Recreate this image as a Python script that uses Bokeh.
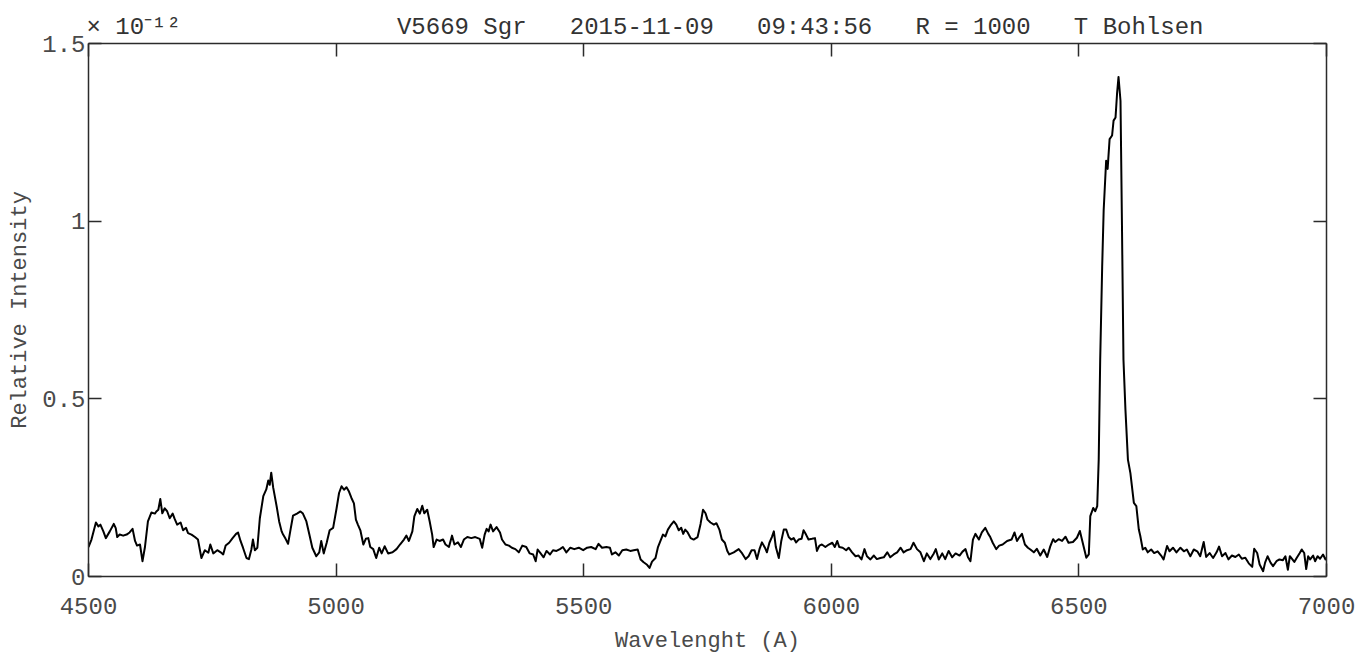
from bokeh.plotting import figure
from bokeh.models import LinearAxis, FixedTicker, CustomJSTickFormatter, Range1d, Title
from bokeh.embed import file_html
from bokeh.resources import INLINE

# V5669 Sgr spectrum, relative intensity in units of 1e-12
wavelength = [
    4500, 4506, 4515, 4520, 4524, 4530, 4535, 4543, 4551, 4555, 4558, 4563, 4570, 4577, 4583, 4589,
    4594, 4598, 4604, 4609, 4614, 4620, 4627, 4634, 4637, 4641, 4645, 4649, 4654, 4659, 4664, 4670,
    4674, 4679, 4686, 4691, 4697, 4701, 4708, 4715, 4721, 4728, 4735, 4742, 4746, 4752, 4760, 4767,
    4772, 4777, 4784, 4791, 4798, 4802, 4807, 4812, 4819, 4824, 4829, 4832, 4836, 4841, 4846, 4853,
    4859, 4863, 4866, 4869, 4873, 4880, 4885, 4890, 4893, 4898, 4903, 4908, 4913, 4921, 4928, 4933,
    4940, 4946, 4952, 4960, 4966, 4970, 4975, 4981, 4987, 4994, 5001, 5006, 5011, 5016, 5021, 5026,
    5031, 5036, 5040, 5044, 5049, 5055, 5060, 5065, 5069, 5075, 5081, 5087, 5092, 5098, 5105, 5114,
    5122, 5129, 5137, 5142, 5147, 5154, 5158, 5164, 5169, 5174, 5178, 5184, 5189, 5194, 5197, 5203,
    5209, 5216, 5221, 5228, 5234, 5239, 5246, 5252, 5258, 5265, 5273, 5281, 5290, 5295, 5300, 5304,
    5308, 5312, 5317, 5324, 5331, 5335, 5342, 5349, 5355, 5362, 5369, 5376, 5384, 5391, 5398, 5403,
    5407, 5413, 5419, 5425, 5432, 5438, 5445, 5452, 5458, 5465, 5473, 5481, 5490, 5499, 5507, 5515,
    5524, 5530, 5537, 5546, 5553, 5557, 5564, 5571, 5578, 5586, 5594, 5601, 5609, 5615, 5621, 5628,
    5633, 5638, 5645, 5650, 5655, 5660, 5665, 5670, 5675, 5682, 5687, 5692, 5697, 5701, 5705, 5710,
    5716, 5722, 5730, 5736, 5741, 5746, 5750, 5756, 5763, 5768, 5774, 5779, 5785, 5790, 5794, 5803,
    5813, 5820, 5827, 5833, 5839, 5845, 5850, 5855, 5860, 5866, 5870, 5875, 5880, 5884, 5888, 5894,
    5899, 5904, 5909, 5914, 5919, 5924, 5929, 5934, 5940, 5944, 5949, 5954, 5961, 5967, 5971, 5976,
    5981, 5988, 5995, 6002, 6007, 6012, 6016, 6023, 6030, 6035, 6042, 6049, 6055, 6061, 6067, 6072,
    6079, 6086, 6092, 6099, 6106, 6113, 6119, 6126, 6133, 6140, 6146, 6153, 6160, 6166, 6173, 6180,
    6187, 6193, 6200, 6207, 6211, 6217, 6224, 6230, 6237, 6244, 6251, 6259, 6265, 6271, 6276, 6281,
    6286, 6291, 6298, 6304, 6311, 6317, 6321, 6326, 6333, 6339, 6346, 6355, 6364, 6370, 6375, 6380,
    6385, 6391, 6397, 6402, 6409, 6415, 6422, 6429, 6436, 6442, 6448, 6452, 6459, 6466, 6473, 6479,
    6488, 6496, 6502, 6506, 6511, 6515, 6520, 6523, 6529, 6533, 6537, 6540, 6543, 6547, 6550, 6555,
    6558, 6562, 6567, 6570, 6574, 6577, 6580, 6584, 6587, 6590, 6594, 6599, 6604, 6611, 6616, 6621,
    6624, 6629, 6634, 6639, 6646, 6652, 6659, 6666, 6671, 6678, 6683, 6690, 6697, 6705, 6712, 6718,
    6725, 6732, 6739, 6745, 6752, 6757, 6764, 6771, 6778, 6783, 6789, 6796, 6802, 6809, 6816, 6823,
    6829, 6836, 6843, 6850, 6854, 6860, 6865, 6872, 6876, 6881, 6887, 6892, 6899, 6905, 6912, 6917,
    6922, 6926, 6930, 6935, 6940, 6946, 6950, 6955, 6959, 6963, 6967, 6973, 6977, 6982, 6987, 6993,
    6998, 7000,
]
intensity = [
    0.083, 0.104, 0.152, 0.141, 0.146, 0.127, 0.108, 0.127, 0.148, 0.136, 0.111, 0.118, 0.115, 0.118, 0.124, 0.134,
    0.100, 0.087, 0.090, 0.043, 0.083, 0.155, 0.180, 0.177, 0.183, 0.188, 0.218, 0.178, 0.192, 0.183, 0.164, 0.177,
    0.162, 0.146, 0.152, 0.130, 0.137, 0.122, 0.118, 0.111, 0.104, 0.052, 0.074, 0.067, 0.090, 0.065, 0.074, 0.068,
    0.062, 0.087, 0.095, 0.108, 0.120, 0.124, 0.100, 0.081, 0.052, 0.049, 0.077, 0.104, 0.074, 0.081, 0.164, 0.226,
    0.245, 0.270, 0.258, 0.292, 0.250, 0.197, 0.155, 0.127, 0.118, 0.106, 0.092, 0.132, 0.171, 0.177, 0.183, 0.177,
    0.155, 0.118, 0.081, 0.057, 0.068, 0.100, 0.065, 0.095, 0.130, 0.137, 0.192, 0.235, 0.254, 0.244, 0.251, 0.239,
    0.221, 0.206, 0.160, 0.146, 0.130, 0.090, 0.106, 0.108, 0.083, 0.077, 0.052, 0.081, 0.065, 0.085, 0.065, 0.068,
    0.077, 0.090, 0.104, 0.115, 0.100, 0.127, 0.169, 0.190, 0.177, 0.199, 0.178, 0.188, 0.155, 0.118, 0.083, 0.104,
    0.100, 0.104, 0.090, 0.083, 0.115, 0.090, 0.096, 0.083, 0.104, 0.111, 0.108, 0.111, 0.106, 0.081, 0.118, 0.134,
    0.127, 0.146, 0.127, 0.139, 0.124, 0.104, 0.090, 0.087, 0.081, 0.077, 0.068, 0.087, 0.083, 0.065, 0.062, 0.043,
    0.076, 0.065, 0.054, 0.072, 0.062, 0.074, 0.072, 0.077, 0.083, 0.068, 0.081, 0.077, 0.081, 0.074, 0.081, 0.083,
    0.077, 0.092, 0.081, 0.083, 0.081, 0.062, 0.068, 0.059, 0.074, 0.076, 0.072, 0.074, 0.076, 0.048, 0.040, 0.033,
    0.024, 0.042, 0.052, 0.083, 0.100, 0.118, 0.113, 0.132, 0.143, 0.155, 0.146, 0.130, 0.137, 0.120, 0.132, 0.124,
    0.108, 0.104, 0.111, 0.148, 0.188, 0.178, 0.160, 0.152, 0.146, 0.150, 0.132, 0.104, 0.095, 0.072, 0.062, 0.068,
    0.077, 0.065, 0.049, 0.057, 0.074, 0.074, 0.049, 0.077, 0.096, 0.081, 0.068, 0.095, 0.111, 0.127, 0.083, 0.052,
    0.100, 0.132, 0.132, 0.111, 0.104, 0.108, 0.096, 0.104, 0.106, 0.130, 0.118, 0.104, 0.106, 0.108, 0.072, 0.087,
    0.090, 0.083, 0.090, 0.095, 0.083, 0.100, 0.083, 0.081, 0.074, 0.081, 0.068, 0.057, 0.059, 0.048, 0.077, 0.057,
    0.048, 0.059, 0.049, 0.052, 0.054, 0.068, 0.054, 0.062, 0.068, 0.081, 0.068, 0.074, 0.077, 0.095, 0.077, 0.068,
    0.043, 0.065, 0.049, 0.065, 0.077, 0.048, 0.065, 0.049, 0.072, 0.054, 0.065, 0.059, 0.070, 0.077, 0.054, 0.043,
    0.104, 0.120, 0.104, 0.124, 0.137, 0.120, 0.111, 0.095, 0.077, 0.087, 0.090, 0.100, 0.104, 0.124, 0.100, 0.111,
    0.120, 0.090, 0.081, 0.076, 0.068, 0.078, 0.059, 0.076, 0.055, 0.084, 0.105, 0.097, 0.105, 0.100, 0.112, 0.095,
    0.097, 0.109, 0.128, 0.105, 0.076, 0.053, 0.062, 0.170, 0.193, 0.184, 0.198, 0.329, 0.610, 0.872, 1.030, 1.170,
    1.147, 1.231, 1.241, 1.283, 1.292, 1.358, 1.406, 1.339, 0.984, 0.610, 0.469, 0.329, 0.291, 0.207, 0.198, 0.132,
    0.114, 0.076, 0.081, 0.068, 0.076, 0.066, 0.071, 0.059, 0.048, 0.086, 0.071, 0.081, 0.068, 0.081, 0.071, 0.076,
    0.057, 0.076, 0.071, 0.057, 0.097, 0.055, 0.066, 0.052, 0.068, 0.084, 0.057, 0.066, 0.048, 0.059, 0.055, 0.062,
    0.050, 0.053, 0.037, 0.027, 0.078, 0.066, 0.034, 0.015, 0.039, 0.057, 0.039, 0.029, 0.043, 0.048, 0.046, 0.057,
    0.019, 0.057, 0.050, 0.041, 0.053, 0.066, 0.076, 0.066, 0.021, 0.057, 0.048, 0.059, 0.043, 0.057, 0.050, 0.062,
    0.048, 0.053,
]

x_ticks = [4500, 5000, 5500, 6000, 6500, 7000]
y_ticks = [0, 0.5, 1, 1.5]

title_text = "V5669 Sgr   2015-11-09   09:43:56   R = 1000   T Bohlsen"
scale_text = "\u00d7 10\u207b\u00b9\u00b2"
x_label = "Wavelenght (A)"
y_label = "Relative Intensity"

FONT = "Liberation Mono"
AXIS_COLOR = "#2b2b2b"
TEXT_COLOR = "#4a4a4a"
NBSP = "\u00a0"

p = figure(
    width=1362, height=656,
    output_backend="svg", toolbar_location=None,
    x_range=Range1d(x_ticks[0], x_ticks[-1]),
    y_range=Range1d(y_ticks[0], y_ticks[-1]),
    min_border_left=88, min_border_right=36,
    min_border_top=43, min_border_bottom=79,
    background_fill_color="white", border_fill_color="white",
)
p.outline_line_color = None
p.grid.visible = False

top_axis = LinearAxis()
right_axis = LinearAxis()
p.add_layout(top_axis, "above")
p.add_layout(right_axis, "right")
bottom_axis = p.below[0]
left_axis = p.left[0]


def style_axis(ax, ticks, labelled):
    ax.ticker = FixedTicker(ticks=ticks)
    ax.major_tick_in = 13
    ax.major_tick_out = 0
    ax.minor_tick_line_color = None
    ax.axis_line_color = AXIS_COLOR
    ax.axis_line_width = 1.5
    ax.major_tick_line_color = AXIS_COLOR
    ax.major_tick_line_width = 1.5
    if labelled:
        ax.formatter = CustomJSTickFormatter(code="return tick.toString();")
        ax.major_label_text_font = FONT
        ax.major_label_text_font_size = "24px"
        ax.major_label_text_color = TEXT_COLOR
        ax.axis_label_text_font = FONT
        ax.axis_label_text_font_size = "22px"
        ax.axis_label_text_font_style = "normal"
        ax.axis_label_text_color = TEXT_COLOR
    else:
        ax.formatter = CustomJSTickFormatter(code="return '';")
        ax.major_label_text_font_size = "1px"
        ax.major_label_standoff = 0


style_axis(bottom_axis, x_ticks, True)
style_axis(top_axis, x_ticks, False)
style_axis(left_axis, y_ticks, True)
style_axis(right_axis, y_ticks, False)

bottom_axis.axis_label = x_label
bottom_axis.major_label_standoff = 21
bottom_axis.axis_label_standoff = 12
left_axis.axis_label = y_label
left_axis.major_label_standoff = 3
left_axis.axis_label_standoff = 6

# the y scale factor sits at the left end of the title row
heading = scale_text + NBSP * 15 + title_text.replace(" ", NBSP)
p.title = Title(
    text=heading, align="left", offset=-2, standoff=6,
    text_font=FONT, text_font_size="24px", text_font_style="normal",
    text_color="#333333",
)

p.line(wavelength, intensity, line_color="black", line_width=2, line_join="round")

open("out.html", "w").write(file_html(p, INLINE))
